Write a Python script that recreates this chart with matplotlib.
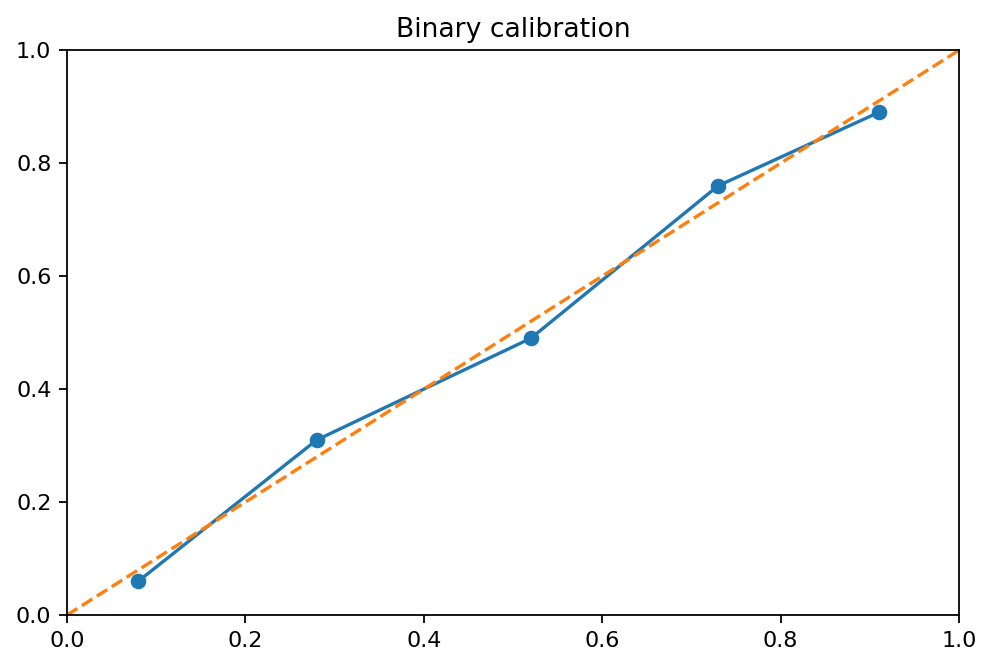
import matplotlib
matplotlib.use("Agg")
import matplotlib.pyplot as plt

# mean predicted probability vs observed fraction
pred_prob = [0.08, 0.28, 0.52, 0.73, 0.91]
frac_pos = [0.06, 0.31, 0.49, 0.76, 0.89]
diag = [0, 1]

fig = plt.figure(figsize=(6.2, 4.1875), dpi=160)
ax = fig.add_axes([0.0675, 0.082, 0.8992, 0.843])
ax.plot(pred_prob, frac_pos, marker='o')
ax.plot(diag, diag, linestyle='--')
ax.set_xlim(0, 1)
ax.set_ylim(0, 1)
ax.set_title('Binary calibration')
fig.savefig('out.png')
